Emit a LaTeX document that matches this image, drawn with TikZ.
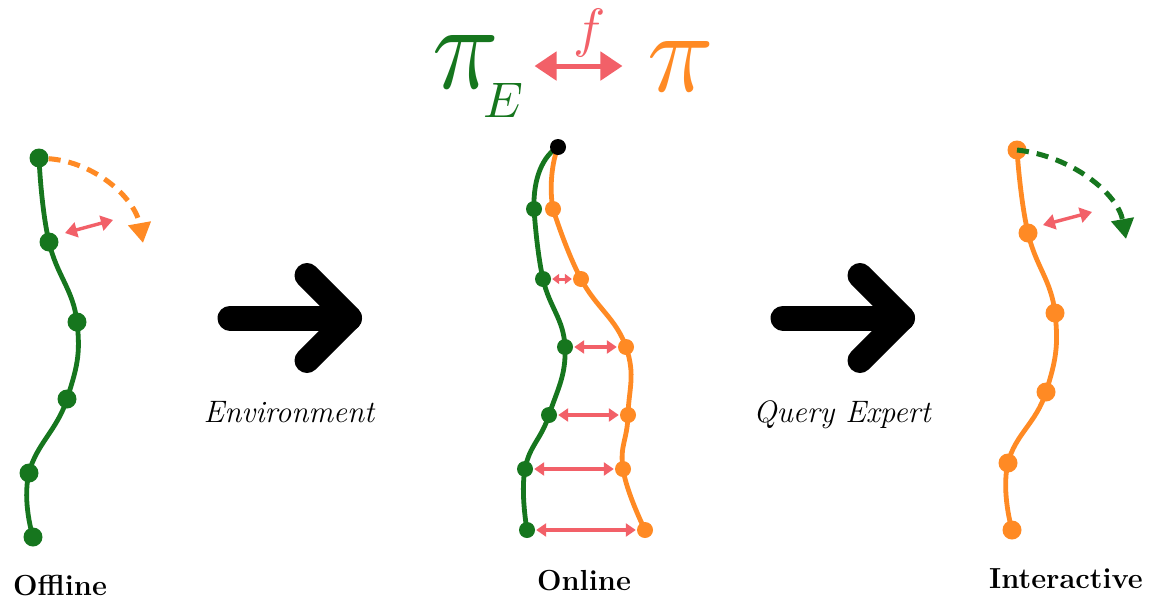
\documentclass[tikz,border=0pt]{standalone}
\usepackage{fontspec}
\usetikzlibrary{arrows.meta}

\definecolor{expgreen}{RGB}{22,118,30}
\definecolor{polorange}{RGB}{255,138,36}
\definecolor{relred}{RGB}{242,96,104}

\pgfdeclarelayer{paper}
\pgfdeclarelayer{background}
\pgfsetlayers{paper,background,main}

\tikzset{
  traj/.style={line width=4.8pt, line cap=round, line join=round},
  bigdot/.style={circle, fill, inner sep=0pt, minimum size=19pt},
  smalldot/.style={circle, fill, inner sep=0pt, minimum size=16pt},
  rel/.style={draw=relred, line width=3.4pt,
    {Triangle[length=12pt,width=15pt]}-{Triangle[length=12pt,width=15pt]}},
  relrow/.style={draw=relred, line width=3.2pt, shorten <=1pt, shorten >=1pt,
    {Triangle[length=10pt,width=13pt]}-{Triangle[length=10pt,width=13pt]}},
  relsmall/.style={draw=relred, line width=3pt, shorten <=1pt, shorten >=1pt,
    {Triangle[length=7pt,width=10pt]}-{Triangle[length=7pt,width=10pt]}},
  rollout/.style={line width=5pt, dash pattern=on 12pt off 8pt,
    -{Triangle[length=20pt,width=22pt]}},
  bigarrow/.style={line width=25pt, line cap=round, line join=round},
  stage/.style={font=\bfseries\fontsize{29}{29}\selectfont, anchor=base, inner sep=0pt},
  medium/.style={font=\itshape\fontsize{31}{31}\selectfont, anchor=base, inner sep=0pt},
  farrow/.style={draw=relred, line width=5pt,
    {Triangle[length=22pt,width=28pt]}-{Triangle[length=22pt,width=28pt]}},
}

\begin{document}
\begin{tikzpicture}[x=1pt, y=-1pt]
\begin{pgfonlayer}{paper}
\fill[white] (0,0) rectangle (1149,600);
\end{pgfonlayer}
\useasboundingbox (0,0) rectangle (1149,600);

% ---------- policies and the divergence f ----------
\node[anchor=base, inner sep=0pt, text=expgreen] (piE) at (466,88)
  {\scalebox{11}[12.3]{$\pi$}\rlap{\hspace{-16pt}\smash{\raisebox{-29pt}{\scalebox{5}{$E$}}}}};
\node[anchor=base, inner sep=0pt, text=polorange] (pi) at (681,91)
  {\scalebox{11}[11.6]{$\pi$}};
\draw[farrow, shorten <=35pt, shorten >=25pt] (piE.east |- pi.west) -- (pi.west)
  node[midway, above=7pt, xshift=16pt, inner sep=0pt, text=relred] (f)
  {\scalebox{5.4}{$f$}};

% ---------- offline: expert demonstration ----------
\begin{scope}[expgreen]
\node[bigdot] (O1) at (39,158) {};
\node[bigdot] (O2) at (49,242) {};
\node[bigdot] (O3) at (77,322) {};
\node[bigdot] (O4) at (67,399) {};
\node[bigdot] (O5) at (29,473) {};
\node[bigdot] (O6) at (33,537) {};
\end{scope}
\begin{pgfonlayer}{background}
\draw[traj, expgreen] plot[smooth, tension=0.75] coordinates
  {(O1.center) (O2.center) (O3.center) (O4.center) (O5.center) (O6.center)};
\end{pgfonlayer}
\coordinate (offTip) at (143,243);
\draw[rollout, polorange] (O1) .. controls (95,162) and (135,198) .. (offTip);
\coordinate (offA) at (65,233);
\coordinate (offB) at (113,220);
\draw[rel] (offA) -- (offB);

\node[stage] (offline) at (60,595) {Offline};

% ---------- environment arrow ----------
\coordinate (envTail) at (230,318);
\coordinate (envHead) at (349.5,318);
\draw[bigarrow] (envTail) -- (envHead);
\draw[bigarrow] (envHead) ++(-42.5,-42.5) -- (envHead) -- ++(-42.5,42.5);
\node[medium] (env) at (289,422) {Environment};

% ---------- online: learner rollouts vs expert ----------
\begin{scope}[expgreen]
\node[smalldot] (G1) at (534,209) {};
\node[smalldot] (G2) at (543,279) {};
\node[smalldot] (G3) at (565,347) {};
\node[smalldot] (G4) at (549,415) {};
\node[smalldot] (G5) at (525,469) {};
\node[smalldot] (G6) at (527,530) {};
\end{scope}
\begin{scope}[polorange]
\node[smalldot] (P1) at (553,209) {};
\node[smalldot] (P2) at (581,279) {};
\node[smalldot] (P3) at (626,347) {};
\node[smalldot] (P4) at (628,415) {};
\node[smalldot] (P5) at (623,469) {};
\node[smalldot] (P6) at (645,530) {};
\end{scope}
\node[smalldot, black] (S) at (558,147) {};
\begin{pgfonlayer}{background}
\draw[traj, expgreen] (S.center) .. controls (543,156) and (533,178) .. (G1.center);
\draw[traj, expgreen] plot[smooth, tension=0.75] coordinates
  {(G1.center) (G2.center) (G3.center) (G4.center) (G5.center) (G6.center)};
\draw[traj, polorange] (S.center) .. controls (552,162) and (549,188) .. (P1.center);
\draw[traj, polorange] plot[smooth, tension=0.75] coordinates
  {(P1.center) (P2.center) (P3.center) (P4.center) (P5.center) (P6.center)};
\end{pgfonlayer}
\draw[relsmall] (G2) -- (P2);
\draw[relrow] (G3) -- (P3);
\draw[relrow] (G4) -- (P4);
\draw[relrow] (G5) -- (P5);
\draw[relrow] (G6) -- (P6);

\node[stage] (online) at (584,590) {Online};

% ---------- query expert arrow ----------
\coordinate (qeTail) at (783,318);
\coordinate (qeHead) at (902.5,318);
\draw[bigarrow] (qeTail) -- (qeHead);
\draw[bigarrow] (qeHead) ++(-42.5,-42.5) -- (qeHead) -- ++(-42.5,42.5);
\node[medium] (qe) at (842,422) {Query Expert};

% ---------- interactive: expert labels learner states ----------
\begin{scope}[polorange]
\node[bigdot] (I1) at (1017,150) {};
\node[bigdot] (I2) at (1028,233) {};
\node[bigdot] (I3) at (1055,313) {};
\node[bigdot] (I4) at (1046,392) {};
\node[bigdot] (I5) at (1008,463) {};
\node[bigdot] (I6) at (1012,530) {};
\end{scope}
\begin{pgfonlayer}{background}
\draw[traj, polorange] plot[smooth, tension=0.75] coordinates
  {(I1.center) (I2.center) (I3.center) (I4.center) (I5.center) (I6.center)};
\end{pgfonlayer}
\coordinate (intTip) at (1126,239);
\draw[rollout, expgreen] (I1.center) .. controls (1072,156) and (1118,194) .. (intTip);
\coordinate (intA) at (1043,225);
\coordinate (intB) at (1092,212);
\draw[rel] (intA) -- (intB);

\node[stage] (interactive) at (1066,588) {Interactive};
\end{tikzpicture}
\end{document}
